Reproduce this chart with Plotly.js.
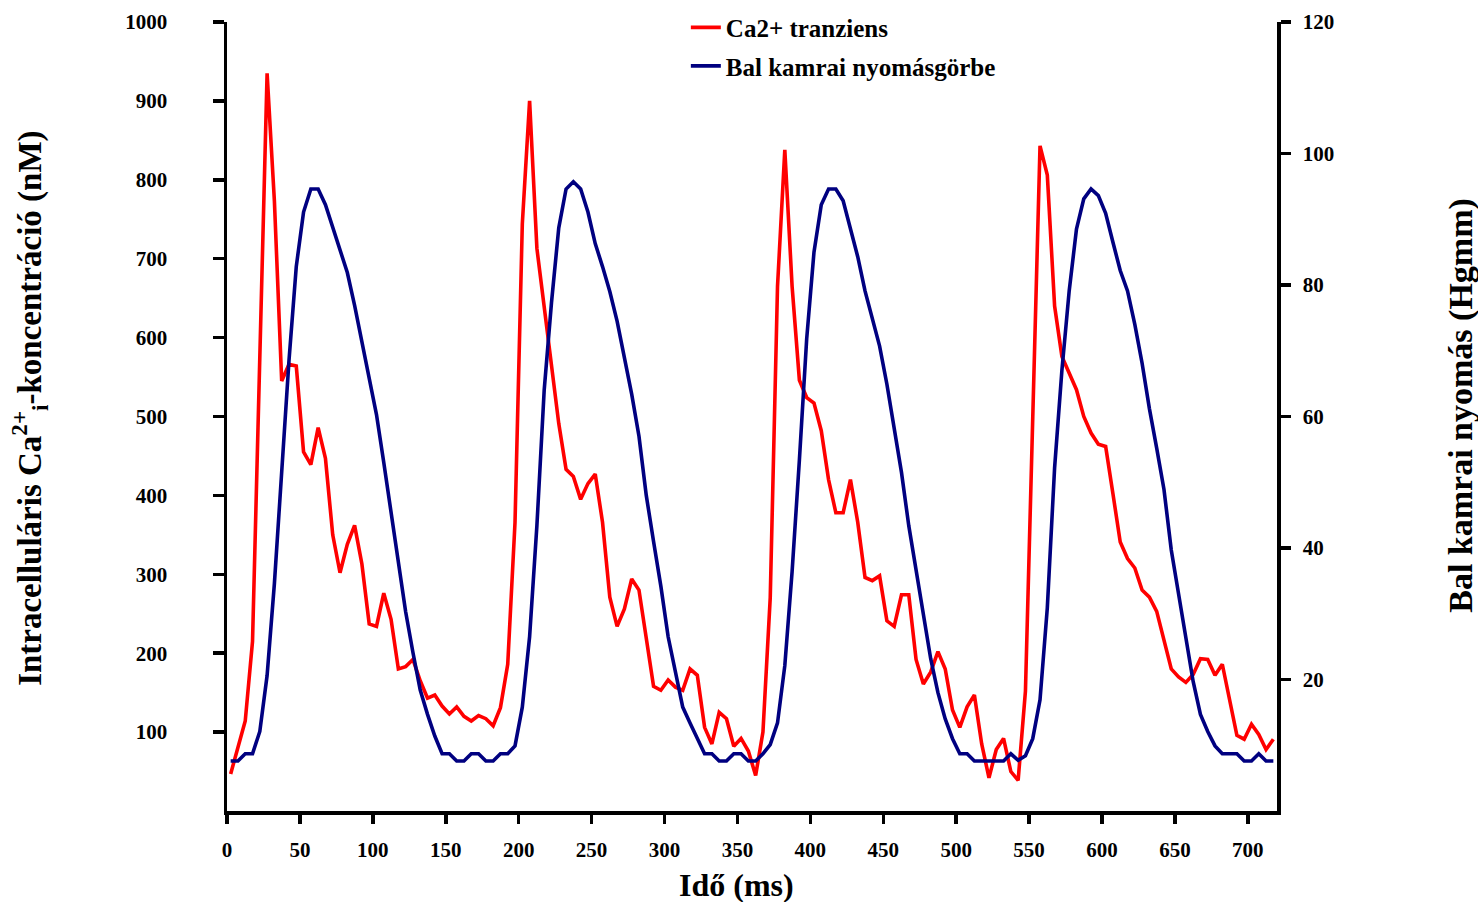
<!DOCTYPE html>
<html>
<head>
<meta charset="utf-8">
<script src="https://cdn.plot.ly/plotly-3.0.1.min.js"></script>
<style>html,body{margin:0;padding:0;background:#fff;}#chart{width:1478px;height:902px;}</style>
</head>
<body>
<div id="chart"></div>
<script>
// Sampling: first sample at 2.5 ms, one sample every 5 ms (144 samples)
const timeStart = 2.5;
const timeStep = 5;

// Ca2+ transient (nM), left axis
const caTransient = [
  47, 80, 114, 215, 560, 935, 773, 545, 566, 564,
  455, 439, 486, 447, 350, 302, 338, 362, 313, 237,
  234, 276, 243, 180, 183, 192, 165, 143, 147, 133,
  123, 132, 120, 114, 121, 117, 108, 131, 186, 366,
  744, 900, 713, 640, 565, 491, 433, 424, 395, 415,
  427, 366, 271, 234, 256, 294, 280, 219, 158, 153,
  166, 157, 153, 180, 172, 106, 85, 125, 117, 82,
  92, 76, 45, 100, 270, 665, 838, 665, 546, 524,
  517, 482, 420, 378, 378, 420, 366, 296, 292, 298,
  241, 234, 274, 274, 192, 161, 176, 202, 180, 128,
  106, 132, 147, 85, 42, 78, 92, 50, 39, 152,
  500, 843, 806, 640, 576, 556, 534, 500, 479, 465,
  462, 402, 341, 320, 308, 280, 271, 253, 216, 180,
  170, 163, 173, 193, 192, 172, 186, 140, 96, 91,
  110, 97, 78, 91
];

// Left ventricular pressure (Hgmm), right axis
const lvPressure = [
  7.6, 7.6, 8.7, 8.7, 12.1, 20.6, 34.6, 51.5, 68.5, 82.8,
  91.1, 94.6, 94.6, 92.2, 88.7, 85.0, 81.9, 76.9, 71.4, 65.9,
  60.3, 53.0, 45.6, 38.0, 30.3, 24.1, 18.4, 14.7, 11.4, 8.7,
  8.7, 7.6, 7.6, 8.7, 8.7, 7.6, 7.6, 8.7, 8.7, 9.9,
  15.8, 26.5, 43.4, 64.0, 77.3, 88.7, 94.6, 95.7, 94.6, 91.1,
  86.3, 82.8, 79.0, 74.5, 69.2, 63.4, 57.0, 48.0, 41.0, 34.2,
  26.5, 21.2, 15.8, 13.4, 11.0, 8.7, 8.7, 7.6, 7.6, 8.7,
  8.7, 7.6, 7.6, 8.7, 10.1, 13.4, 22.1, 36.4, 53.4, 71.8,
  85.0, 92.2, 94.6, 94.6, 92.8, 88.7, 84.3, 79.1, 74.7, 70.7,
  64.9, 58.5, 51.5, 43.4, 36.9, 30.5, 23.2, 18.0, 14.0, 11.0,
  8.7, 8.7, 7.6, 7.6, 7.6, 7.6, 7.6, 8.7, 7.7, 8.4,
  11.0, 16.9, 30.9, 52.2, 67.0, 79.1, 88.5, 93.1, 94.6, 93.6,
  90.9, 86.5, 82.2, 79.1, 74.0, 68.1, 61.2, 55.2, 48.9, 39.7,
  33.1, 26.5, 19.7, 14.7, 12.1, 9.9, 8.7, 8.7, 8.7, 7.6,
  7.6, 8.7, 7.6, 7.6
];

// Tick values
const xTickVals = [0, 50, 100, 150, 200, 250, 300, 350, 400, 450, 500, 550, 600, 650, 700];
const yLeftLabelVals = [100, 200, 300, 400, 500, 600, 700, 800, 900, 1000];
const yLeftAllTicks = [0, 100, 200, 300, 400, 500, 600, 700, 800, 900, 1000];
const yRightLabelVals = [20, 40, 60, 80, 100, 120];
const yRightAllTicks = [0, 20, 40, 60, 80, 100, 120];

const seriesNames = ['Ca2+ tranziens', 'Bal kamrai nyomásgörbe'];
const xTitle = 'Idő (ms)';
const yLeftTitle = 'Intracelluláris Ca<sup>2+</sup><sub>i</sub>-koncentráció (nM)';
const yRightTitle = 'Bal kamrai nyomás (Hgmm)';

const FONT = 'Liberation Serif, Times New Roman, serif';
const AX_W = 3.5;

const traces = [
  {
    type: 'scatter', mode: 'lines', name: seriesNames[0], legendgroup: 'g1',
    x0: timeStart, dx: timeStep, y: caTransient,
    xaxis: 'x', yaxis: 'y',
    line: {color: '#FF0000', width: 3.6}
  },
  {
    type: 'scatter', mode: 'lines', name: seriesNames[1], legendgroup: 'g2',
    x0: timeStart, dx: timeStep, y: lvPressure,
    xaxis: 'x', yaxis: 'y2',
    line: {color: '#000080', width: 3.6}
  }
];

const tickFont = {family: FONT, size: 21, color: '#000', weight: 'bold'};

const overlayY = (side, range, vals, dir, len) => ({
  overlaying: 'y', side: side, anchor: 'x', range: range,
  showgrid: false, zeroline: false, showline: false,
  ticks: dir, ticklen: len, tickwidth: AX_W, tickcolor: '#000',
  tickmode: 'array', tickvals: vals, showticklabels: false
});

const titleAnn = (text, x, y, angle, size) => ({
  text: text, xref: 'paper', yref: 'paper', x: x, y: y,
  xanchor: 'center', yanchor: 'middle', textangle: angle, showarrow: false,
  font: {family: FONT, size: size, color: '#000', weight: 'bold'}
});

const layout = {
  width: 1478, height: 902,
  margin: {l: 227, r: 201, t: 22, b: 91, autoexpand: false},
  paper_bgcolor: '#fff', plot_bgcolor: '#fff',
  showlegend: true,
  legend: {
    x: 0.437, y: 1.022, xanchor: 'left', yanchor: 'top',
    font: {family: FONT, size: 25, color: '#000', weight: 'bold'},
    bgcolor: 'rgba(0,0,0,0)', tracegroupgap: 3
  },
  xaxis: {
    range: [0, 720], showgrid: false, zeroline: false,
    showline: true, linecolor: '#000', linewidth: AX_W,
    ticks: 'outside', ticklen: 9, tickwidth: AX_W, tickcolor: '#000',
    tickmode: 'array', tickvals: xTickVals, tickfont: tickFont,
    ticklabelstandoff: 8,
    automargin: false
  },
  xaxis2: {
    overlaying: 'x', anchor: 'y', side: 'bottom', range: [0, 720],
    showgrid: false, zeroline: false, showline: false,
    ticks: 'inside', ticklen: 8, tickwidth: AX_W, tickcolor: '#000',
    tickmode: 'array', tickvals: xTickVals, showticklabels: false
  },
  yaxis: {
    range: [0, 1000], showgrid: false, zeroline: false,
    showline: true, linecolor: '#000', linewidth: AX_W,
    ticks: 'outside', ticklen: 11, tickwidth: AX_W, tickcolor: '#000',
    tickmode: 'array', tickvals: yLeftLabelVals, tickfont: tickFont,
    ticklabelstandoff: 41,
    automargin: false
  },
  yaxis2: {
    overlaying: 'y', side: 'right', anchor: 'x', range: [0, 120],
    showgrid: false, zeroline: false,
    showline: true, linecolor: '#000', linewidth: AX_W,
    ticks: 'outside', ticklen: 10, tickwidth: AX_W, tickcolor: '#000',
    tickmode: 'array', tickvals: yRightLabelVals, tickfont: tickFont,
    ticklabelstandoff: 8,
    automargin: false
  },
  yaxis3: overlayY('left', [0, 1000], yLeftAllTicks, 'inside', 9),
  yaxis4: overlayY('right', [0, 120], yRightAllTicks, 'inside', 10),
  yaxis5: overlayY('left', [0, 1000], [0], 'outside', 11),
  yaxis6: overlayY('right', [0, 120], [0], 'outside', 10),
  annotations: [
    titleAnn(xTitle, 0.4857, -0.0932, 0, 32),
    titleAnn(yLeftTitle, -0.1876, 0.5097, -90, 33),
    titleAnn(yRightTitle, 1.1752, 0.5148, -90, 34)
  ]
};

Plotly.newPlot('chart', traces, layout, {displayModeBar: false, staticPlot: true});
</script>
</body>
</html>
